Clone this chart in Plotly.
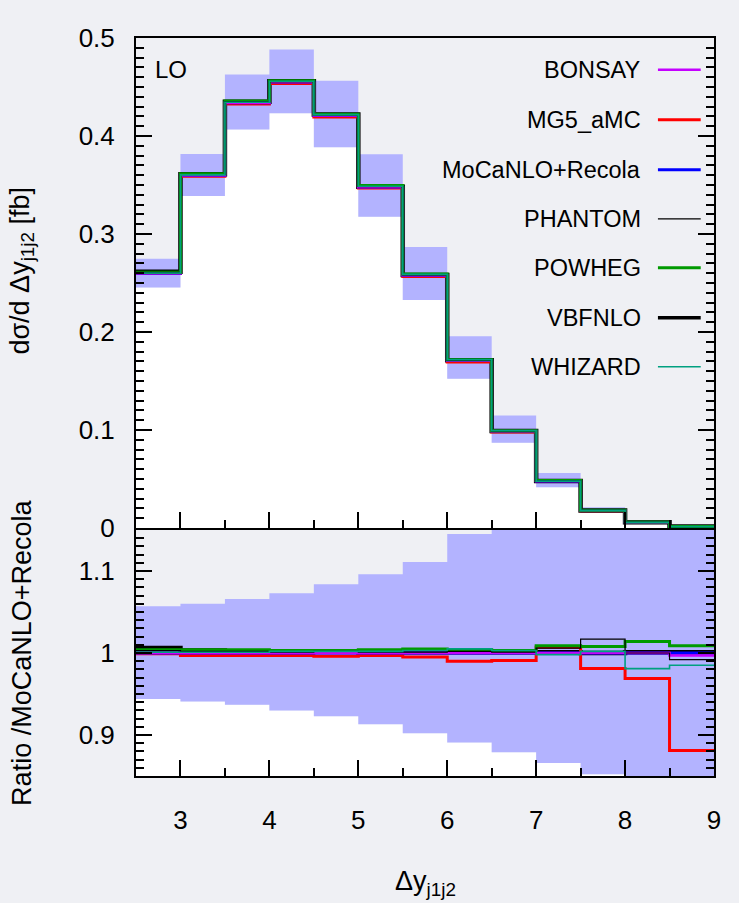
import plotly.graph_objects as go

# Bin edges in Delta y_j1j2
bin_edges = [2.5, 3.0, 3.5, 4.0, 4.5, 5.0, 5.5, 6.0, 6.5, 7.0, 7.5, 8.0, 8.5, 9.0]

# Reference prediction (MoCaNLO+Recola), d sigma / d Delta y  [fb]
xsec_ref = [0.260, 0.360, 0.434, 0.455, 0.421, 0.348, 0.258, 0.171, 0.099, 0.048, 0.018, 0.006, 0.0015]

# Scale-uncertainty band relative to the reference
band_up = [1.057, 1.060, 1.066, 1.073, 1.084, 1.096, 1.111, 1.145, 1.160, 1.170, 1.180, 1.190, 1.200]
band_lo = [0.944, 0.941, 0.937, 0.930, 0.923, 0.913, 0.902, 0.891, 0.879, 0.866, 0.852, 0.840, 0.830]

# Ratios of each code to MoCaNLO+Recola
ratio_bonsay = [1.000, 1.000, 1.000, 1.000, 1.000, 1.000, 1.000, 1.000, 1.000, 1.000, 1.000, 1.000, 0.997]
ratio_mg5 = [0.999, 0.997, 0.997, 0.997, 0.996, 0.997, 0.995, 0.990, 0.991, 1.007, 0.981, 0.969, 0.881]
ratio_mocanlo = [1.000] * 13
ratio_phantom = [1.003, 1.002, 1.002, 1.001, 1.002, 1.001, 1.001, 1.002, 1.001, 1.006, 1.017, 1.000, 0.992]
ratio_powheg = [1.004, 1.004, 1.004, 1.003, 1.003, 1.004, 1.005, 1.004, 1.003, 1.009, 1.008, 1.014, 1.009]
ratio_vbfnlo = [1.006, 1.003, 1.002, 1.002, 1.002, 1.001, 1.001, 1.001, 1.001, 1.001, 1.000, 1.001, 1.001]
ratio_whizard = [1.001, 1.001, 1.001, 1.002, 1.002, 1.002, 1.003, 1.005, 1.003, 0.998, 1.002, 0.981, 0.985]

codes = ["BONSAY", "MG5_aMC", "MoCaNLO+Recola", "PHANTOM", "POWHEG", "VBFNLO", "WHIZARD"]
colors = ["#c400ff", "#ff0000", "#0000ff", "#000000", "#009a00", "#000000", "#00a080"]
widths = [2.5, 3, 3, 1.2, 3, 4.5, 1.6]
ratios = [ratio_bonsay, ratio_mg5, ratio_mocanlo, ratio_phantom, ratio_powheg, ratio_vbfnlo, ratio_whizard]
draw_order = [5, 1, 2, 0, 4, 3, 6]

BG = "#eff0f4"
BAND = "#b3b3ff"
FONT = "Liberation Sans"


def step(vals):
    return list(vals) + [vals[-1]]


fig = go.Figure()

# Uncertainty band, upper panel
top_lo = [c * r for c, r in zip(xsec_ref, band_lo)]
top_up = [c * r for c, r in zip(xsec_ref, band_up)]
fig.add_trace(go.Scatter(x=bin_edges, y=step(top_lo), mode="lines", line=dict(width=0, shape="hv"),
                         fill="tozeroy", fillcolor="white", xaxis="x", yaxis="y", hoverinfo="skip"))
fig.add_trace(go.Scatter(x=bin_edges, y=step(top_up), mode="lines", line=dict(width=0, shape="hv"),
                         fill="tonexty", fillcolor=BAND, xaxis="x", yaxis="y", hoverinfo="skip"))

# Uncertainty band, ratio panel
fig.add_trace(go.Scatter(x=bin_edges, y=step(band_lo), mode="lines", line=dict(width=0, shape="hv"),
                         fill="tozeroy", fillcolor="white", xaxis="x2", yaxis="y2", hoverinfo="skip"))
fig.add_trace(go.Scatter(x=bin_edges, y=step(band_up), mode="lines", line=dict(width=0, shape="hv"),
                         fill="tonexty", fillcolor=BAND, xaxis="x2", yaxis="y2", hoverinfo="skip"))

# Predictions of each code
for i in draw_order:
    vals = [c * r for c, r in zip(xsec_ref, ratios[i])]
    fig.add_trace(go.Scatter(x=bin_edges, y=step(vals), mode="lines", name=codes[i],
                             line=dict(color=colors[i], width=widths[i], shape="hv"),
                             xaxis="x", yaxis="y"))
    fig.add_trace(go.Scatter(x=bin_edges, y=step(ratios[i]), mode="lines", name=codes[i],
                             line=dict(color=colors[i], width=widths[i], shape="hv"),
                             xaxis="x2", yaxis="y2"))

axis_common = dict(showline=True, linecolor="black", linewidth=2, ticks="inside",
                   tickcolor="black", tickwidth=1.5, showgrid=False, zeroline=False,
                   tickfont=dict(family=FONT, size=26, color="black"))
minor_common = dict(ticklen=8, ticks="inside", tickcolor="black", tickwidth=1.5)

fig.update_layout(
    width=739, height=903,
    margin=dict(l=136, r=25, t=38, b=127),
    paper_bgcolor=BG, plot_bgcolor=BG,
    showlegend=False,
    xaxis=dict(domain=[0, 1], anchor="y", range=[2.5, 9], dtick=1, tick0=3, ticklen=16,
               showticklabels=False, mirror=True,
               minor=dict(dtick=0.5, **minor_common), **axis_common),
    yaxis=dict(domain=[0.336, 1], anchor="x", range=[0, 0.5], dtick=0.1, ticklen=16,
               mirror="allticks", ticklabelstandoff=14,
               minor=dict(dtick=0.01, **minor_common), **axis_common),
    xaxis2=dict(domain=[0, 1], anchor="y2", range=[2.5, 9], dtick=1, tick0=3, ticklen=16,
                matches="x", mirror=True, ticklabelstandoff=20,
                minor=dict(dtick=0.5, **minor_common), **axis_common),
    yaxis2=dict(domain=[0, 0.3333], anchor="x2", range=[0.85, 1.15],
                tickvals=[0.9, 1.0, 1.1], ticktext=["0.9", "1", "1.1"], ticklen=16,
                mirror="allticks", ticklabelstandoff=14,
                minor=dict(dtick=0.01, **minor_common), **axis_common),
)

# Legend: label on the left, line sample on the right
legend_y = [0.935, 0.833, 0.731, 0.631, 0.531, 0.429, 0.329]
for name, col, w, yy in zip(codes, colors, widths, legend_y):
    fig.add_annotation(x=0.877, y=yy, xref="x domain", yref="y domain", text=name,
                       showarrow=False, xanchor="right", yanchor="middle",
                       font=dict(family=FONT, size=23.5, color="black"))
    fig.add_shape(type="line", xref="x domain", yref="y domain", x0=0.903, x1=0.977,
                  y0=yy, y1=yy, line=dict(color=col, width=min(w, 3.5)))

fig.add_annotation(x=0.03, y=0.935, xref="x domain", yref="y domain", text="LO",
                   showarrow=False, xanchor="left", yanchor="middle",
                   font=dict(family=FONT, size=24, color="black"))

# Axis titles
fig.add_annotation(x=-0.197, y=0.685, xref="paper", yref="paper",
                   text="dσ/d Δy<sub>j1j2</sub> [fb]", textangle=-90, showarrow=False,
                   xanchor="center", yanchor="middle", font=dict(family=FONT, size=27, color="black"))
fig.add_annotation(x=-0.197, y=0.167, xref="paper", yref="paper",
                   text="Ratio /MoCaNLO+Recola", textangle=-90, showarrow=False,
                   xanchor="center", yanchor="middle", font=dict(family=FONT, size=27, color="black"))
fig.add_annotation(x=0.5, y=-0.145, xref="paper", yref="paper",
                   text="Δy<sub>j1j2</sub>", showarrow=False,
                   xanchor="center", yanchor="middle", font=dict(family=FONT, size=27, color="black"))

fig.write_html("out.html")
